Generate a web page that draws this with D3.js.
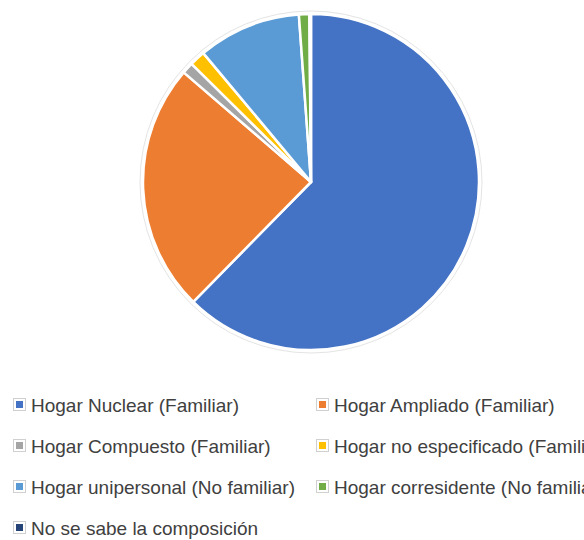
<!DOCTYPE html>
<meta charset="utf-8">
<script src="https://d3js.org/d3.v7.min.js"></script>
<style>
  body { margin: 0; background: #fff; }
  svg { display: block; }
</style>
<body>
<div id="my_dataviz"></div>
<script>
  // categories and shares (%)
  var categories = [
    "Hogar Nuclear (Familiar)",
    "Hogar Ampliado (Familiar)",
    "Hogar Compuesto (Familiar)",
    "Hogar no especificado (Familiar)",
    "Hogar unipersonal (No familiar)",
    "Hogar corresidente (No familiar)",
    "No se sabe la composición"
  ];
  var values = [62.2, 23.9, 1.1, 1.5, 9.9, 1.0, 0.15];
  var colors = ["#4472C4", "#ED7D31", "#A5A5A5", "#FFC000", "#5B9BD5", "#70AD47", "#264478"];

  var width = 584, height = 540;
  var cx = 311, cy = 182, radius = 168;

  var svg = d3.select("#my_dataviz")
    .append("svg")
    .attr("width", width)
    .attr("height", height);

  var rows = categories.map(function (c, i) { return { name: c, value: values[i], color: colors[i] }; });

  var pie = d3.pie()
    .sort(null)
    .value(function (d) { return d.value; });

  var arc = d3.arc()
    .innerRadius(0)
    .outerRadius(radius);

  var g = svg.append("g")
    .attr("transform", "translate(" + cx + "," + cy + ")");

  // faint outline round the pie
  g.append("circle")
    .attr("r", radius + 3)
    .attr("fill", "none")
    .attr("stroke", "#e4e4e4")
    .attr("stroke-width", 1);

  g.selectAll("path")
    .data(pie(rows))
    .enter()
    .append("path")
    .attr("d", arc)
    .attr("fill", function (d) { return d.data.color; })
    .attr("stroke", "#fff")
    .attr("stroke-width", 2.5)
    .attr("stroke-linejoin", "round");

  // legend, two columns
  var colX = [13, 316];
  var rowY = d3.scaleLinear().domain([0, 3]).range([405, 528]);

  var items = svg.selectAll(".legend")
    .data(rows)
    .enter()
    .append("g")
    .attr("class", "legend")
    .attr("transform", function (d, i) {
      return "translate(" + colX[i % 2] + "," + rowY(Math.floor(i / 2)) + ")";
    });

  items.append("rect")
    .attr("x", 0.5)
    .attr("y", -6.5)
    .attr("width", 12)
    .attr("height", 12)
    .attr("fill", "#fff")
    .attr("stroke", "#d0d0d0");

  items.append("rect")
    .attr("x", 3)
    .attr("y", -4)
    .attr("width", 7)
    .attr("height", 7)
    .attr("fill", function (d) { return d.color; });

  items.append("text")
    .attr("x", 18)
    .attr("y", 0)
    .attr("dy", "0.35em")
    .style("font-family", "'Liberation Sans', Arial, sans-serif")
    .style("font-size", "19px")
    .style("fill", "#404040")
    .text(function (d) { return d.name; });
</script>
</body>
